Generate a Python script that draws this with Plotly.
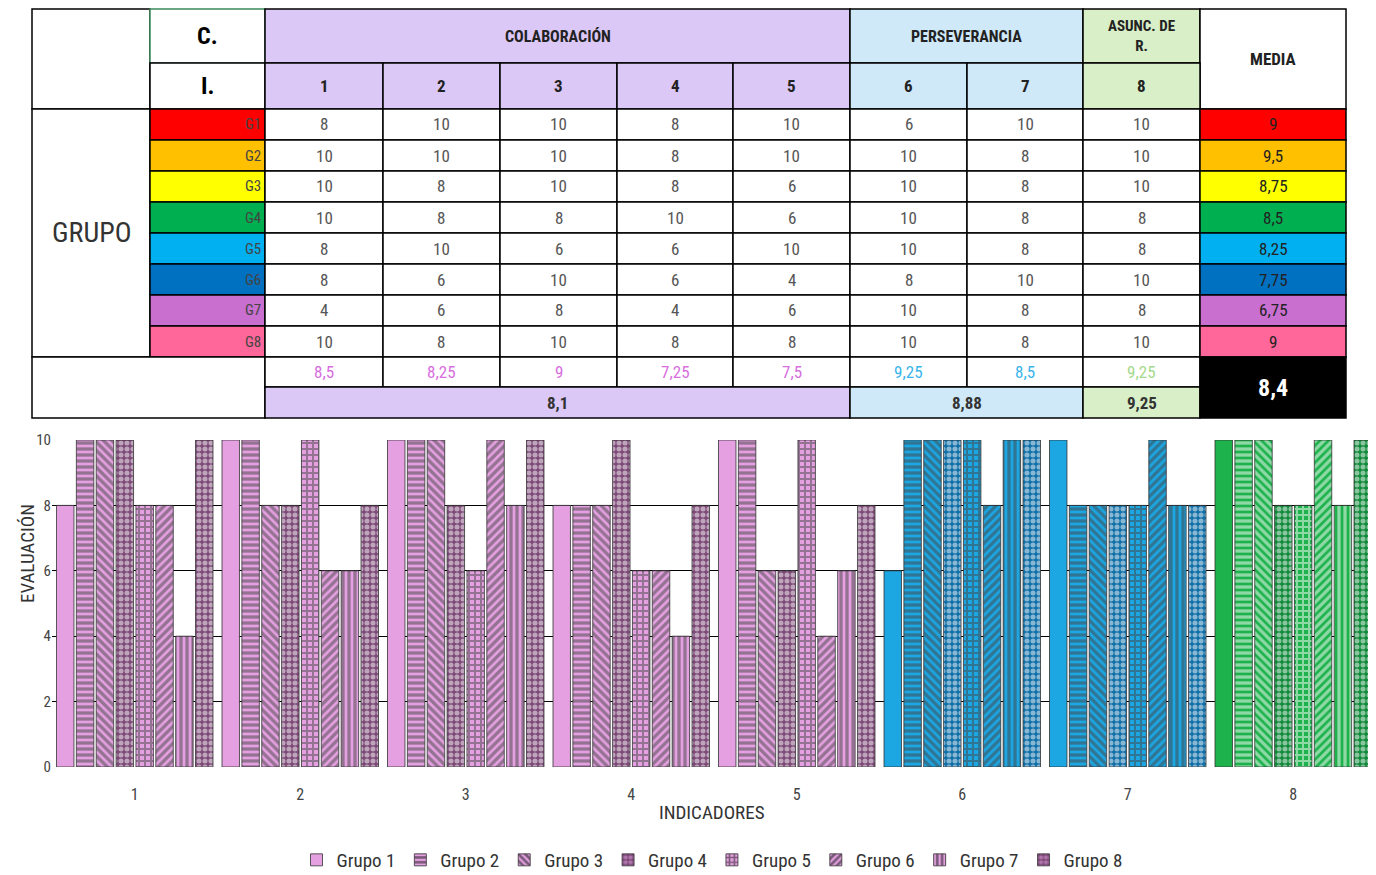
import plotly.graph_objects as go

W, H = 1376, 875
indicators = ["1", "2", "3", "4", "5", "6", "7", "8"]
groups = ["G1", "G2", "G3", "G4", "G5", "G6", "G7", "G8"]
series_names = ["Grupo 1", "Grupo 2", "Grupo 3", "Grupo 4", "Grupo 5", "Grupo 6", "Grupo 7", "Grupo 8"]
scores = [
    [8, 10, 10, 8, 10, 6, 10, 10],
    [10, 10, 10, 8, 10, 10, 8, 10],
    [10, 8, 10, 8, 6, 10, 8, 10],
    [10, 8, 8, 10, 6, 10, 8, 8],
    [8, 10, 6, 6, 10, 10, 8, 8],
    [8, 6, 10, 6, 4, 8, 10, 10],
    [4, 6, 8, 4, 6, 10, 8, 8],
    [10, 8, 10, 8, 8, 10, 8, 10],
]
group_means = ["9", "9,5", "8,75", "8,5", "8,25", "7,75", "6,75", "9"]
indicator_means = ["8,5", "8,25", "9", "7,25", "7,5", "9,25", "8,5", "9,25"]
category_names = ["COLABORACIÓN", "PERSEVERANCIA", "ASUNC. DE<br>R."]
category_means = ["8,1", "8,88", "9,25"]
overall_mean = "8,4"

group_colors = ["#ff0000", "#ffc000", "#ffff00", "#00b050", "#00b0f0", "#0070c0", "#c86fd0", "#ff6699"]
cat_fill = ["#dcc8f7", "#cfe9f8", "#d8efc8"]
cat_text = ["#d86ee0", "#3ab4ea", "#a6d98c"]
ind_cat = [0, 0, 0, 0, 0, 1, 1, 2]
base_col = ["#e4a0e0", "#1ca6e2", "#1db24c"]
dark_col = ["#7d4a78", "#116fa8", "#128a3c"]
patterns = ["", "-", "\\", ".", "+", "/", "|", "."]

FONT = "Liberation Sans Narrow, Roboto Condensed, Liberation Sans, Arial"
OFF = 8  # page body margin

def px(x):
    return (x - OFF) / W

def py(y):
    return min(1.0, 1 - (y - OFF) / H)

fig = go.Figure()
for g in range(8):
    dark = g in (3, 7)
    cols = [(dark_col if dark else base_col)[ind_cat[i]] for i in range(8)]
    fg = ["#111111" if not dark else base_col[ind_cat[i]] for i in range(8)]
    fig.add_trace(go.Bar(
        x=indicators, y=scores[g], name=series_names[g],
        marker=dict(color=cols, line=dict(color="#333333", width=0.8),
                    pattern=dict(shape=patterns[g], fgcolor=fg, size=6, solidity=0.55)),
    ))

shapes, ann = [], []

def cell(x0, y0, x1, y1, fill="white", text=None, color="#333", size=16, bold=False, lw=1.5, lc="black"):
    shapes.append(dict(type="rect", xref="paper", yref="paper", x0=px(x0), x1=px(x1), y0=py(y1), y1=py(y0),
                       fillcolor=fill, line=dict(color=lc, width=lw), layer="above"))
    if text is not None:
        t = f"<b>{text}</b>" if bold else text
        ann.append(dict(xref="paper", yref="paper", x=px((x0 + x1) / 2), y=py((y0 + y1) / 2), text=t,
                        xanchor="center", yanchor="middle",
                        showarrow=False, font=dict(family=FONT, size=size, color=color)))

cx = [265, 383, 500, 617, 733, 850, 967, 1083, 1200]
ry = [109, 140, 171, 202, 233, 264, 295, 326, 357]

cell(32, 9, 150, 109)
cell(150, 9, 265, 63, text="C.", color="black", size=24, bold=True, lc="#3a8a5a")
cell(150, 63, 265, 109, text="I.", color="black", size=24, bold=True)
cell(265, 9, 850, 63, cat_fill[0], category_names[0], "#222", 16, True)
cell(850, 9, 1083, 63, cat_fill[1], category_names[1], "#222", 16, True)
cell(1083, 9, 1200, 63, cat_fill[2], category_names[2], "#222", 15, True)
cell(1200, 9, 1346, 109, text="MEDIA", color="#222", size=17, bold=True)
for i in range(8):
    cell(cx[i], 63, cx[i + 1], 109, cat_fill[ind_cat[i]], indicators[i], "#222", 17, True)
cell(32, 109, 150, 357, text="GRUPO", color="#333", size=28)
for g in range(8):
    cell(150, ry[g], 265, ry[g + 1], group_colors[g], groups[g], "#444", 15, False)
    ann[-1]["xanchor"] = "right"; ann[-1]["x"] = px(263)
    for i in range(8):
        cell(cx[i], ry[g], cx[i + 1], ry[g + 1], "white", str(scores[g][i]), "#555", 17)
    cell(1200, ry[g], 1346, ry[g + 1], group_colors[g], group_means[g], "#222", 17)
cell(32, 357, 265, 418)
for i in range(8):
    cell(cx[i], 357, cx[i + 1], 387, "white", indicator_means[i], cat_text[ind_cat[i]], 17)
cell(265, 387, 850, 418, cat_fill[0], category_means[0], "#333", 17, True)
cell(850, 387, 1083, 418, cat_fill[1], category_means[1], "#333", 17, True)
cell(1083, 387, 1200, 418, cat_fill[2], category_means[2], "#333", 17, True)
cell(1200, 357, 1346, 418, "black", overall_mean, "white", 24, True)

ann.append(dict(xref="paper", yref="paper", x=px(712), y=py(826), text="INDICADORES", showarrow=False,
                font=dict(family=FONT, size=19, color="#333")))
ann.append(dict(xref="paper", yref="paper", x=px(14), y=py(605), text="EVALUACIÓN", showarrow=False,
                textangle=-90, font=dict(family=FONT, size=19, color="#333")))

fig.update_layout(
    width=W, height=H, margin=dict(l=0, r=0, t=0, b=0, autoexpand=False),
    paper_bgcolor="white", plot_bgcolor="white",
    barmode="group", bargap=0.04, bargroupgap=0.12,
    font=dict(family=FONT, color="#444"),
    shapes=shapes, annotations=ann,
    xaxis=dict(domain=[px(52), px(1376)], tickfont=dict(size=16, color="#444"), showline=False, ticks="",
               ticklabelstandoff=16, automargin=False),
    yaxis=dict(domain=[py(767), py(440)], range=[0, 10], dtick=2, showgrid=True, gridcolor="black",
               gridwidth=1.2, zeroline=False, tickfont=dict(size=15, color="#444"), automargin=False),
    legend=dict(orientation="h", x=px(712), xanchor="center", y=py(860), yanchor="middle",
                font=dict(size=19, color="#333"), itemwidth=30, tracegroupgap=0),
)
fig.write_html("out.html")
